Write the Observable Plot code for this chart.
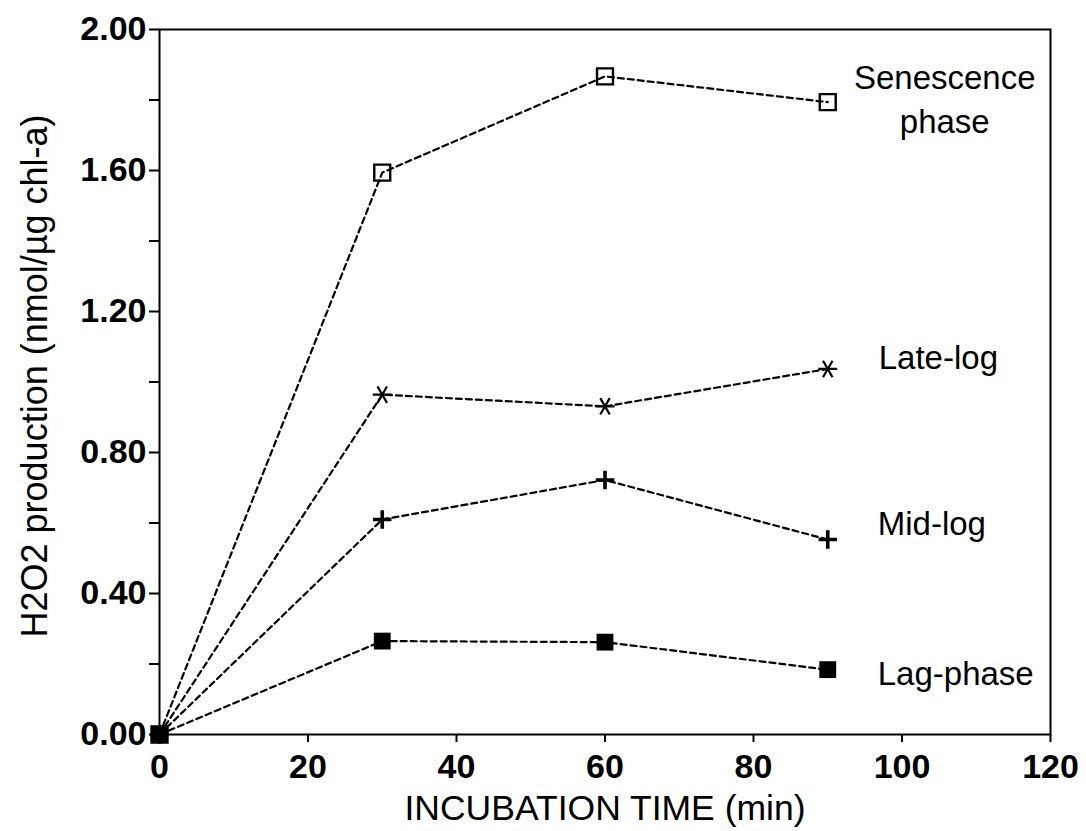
<!DOCTYPE html>
<html>
<head>
<meta charset="utf-8">
<script src="https://cdn.jsdelivr.net/npm/d3@7"></script>
<script src="https://cdn.jsdelivr.net/npm/@observablehq/plot@0.6"></script>
<style>
  html, body { margin: 0; padding: 0; background: #fff; }
  #chart svg { display: block; }
</style>
</head>
<body>
<div id="chart"></div>
<script>
// ---- data ----
const times = [0, 30, 60, 90];
const seriesNames = ["Senescence\nphase", "Late-log", "Mid-log", "Lag-phase"];
const senescence = [0, 1.594, 1.867, 1.794];
const lateLog    = [0, 0.964, 0.931, 1.037];
const midLog     = [0, 0.610, 0.722, 0.553];
const lagPhase   = [0, 0.265, 0.262, 0.184];
const xTicks = [0, 20, 40, 60, 80, 100, 120];
const yTicks = [0, 0.4, 0.8, 1.2, 1.6, 2.0];
const yMinorTicks = [0.2, 0.6, 1.0, 1.4, 1.8];
const xTitle = "INCUBATION TIME (min)";
const yTitle = "H2O2 production (nmol/µg chl-a)";

const valuesBySeries = [senescence, lateLog, midLog, lagPhase];
const rows = [];
seriesNames.forEach((name, s) => {
  times.forEach((t, i) => rows.push({series: name, x: t, y: valuesBySeries[s][i]}));
});
const isLast = (d) => d.x === times[times.length - 1];

const font = "'Liberation Sans', Arial, Helvetica, sans-serif";
const labelSize = 33;

const chart = Plot.plot({
  width: 1086,
  height: 831,
  marginLeft: 159,
  marginRight: 36,
  marginTop: 29,
  marginBottom: 97,
  style: {fontFamily: font, background: "#fff", color: "#000"},
  x: {domain: [0, 120]},
  y: {domain: [0, 2]},
  marks: [
    Plot.frame({stroke: "#000", strokeWidth: 2}),
    Plot.axisY({ticks: yMinorTicks, tickSize: 10, tickFormat: () => "", strokeWidth: 2, label: null}),
    Plot.axisY({ticks: yTicks, tickSize: 10, tickPadding: 3, tickFormat: d3.format(".2f"),
                fontSize: 34, fontWeight: "bold", strokeWidth: 2, label: null}),
    Plot.axisX({ticks: xTicks, tickSize: 8, tickPadding: 11, tickFormat: d3.format("d"),
                fontSize: 34, fontWeight: "bold", strokeWidth: 2, label: null}),
    Plot.text([xTitle], {text: d => d, frameAnchor: "bottom", dy: 74.5, lineAnchor: "middle",
                         textAnchor: "middle", fontSize: 35.5}),
    Plot.text([yTitle], {text: d => d, frameAnchor: "left", dx: -124, dy: -6, rotate: -90,
                         textAnchor: "middle", lineAnchor: "middle", fontSize: 36}),
    Plot.line(rows, {x: "x", y: "y", z: "series", stroke: "#000", strokeWidth: 2.2,
                     strokeDasharray: "6,4"}),
    Plot.dot(rows, {filter: d => d.series === seriesNames[0], x: "x", y: "y", symbol: "square",
                    r: 9, fill: "none", stroke: "#000", strokeWidth: 2.4}),
    Plot.dot(rows, {filter: d => d.series === seriesNames[1], x: "x", y: "y", symbol: "asterisk",
                    r: 9, rotate: 90, stroke: "#000", strokeWidth: 2.2}),
    Plot.dot(rows, {filter: d => d.series === seriesNames[2], x: "x", y: "y", symbol: "plus",
                    r: 6, stroke: "#000", strokeWidth: 3.6}),
    Plot.dot(rows, {filter: d => d.series === seriesNames[3], x: "x", y: "y", symbol: "square",
                    r: 9.5, fill: "#000", stroke: "none"}),
    Plot.text(rows, {filter: d => d.series === seriesNames[0] && isLast(d), x: "x", y: "y",
                     text: "series", dx: 117, dy: -5, textAnchor: "middle", lineAnchor: "middle",
                     lineHeight: 1.32, fontSize: labelSize}),
    Plot.text(rows, {filter: d => d.series === seriesNames[1] && isLast(d), x: "x", y: "y",
                     text: "series", dx: 51, dy: -10.5, textAnchor: "start", lineAnchor: "middle",
                     fontSize: labelSize}),
    Plot.text(rows, {filter: d => d.series === seriesNames[2] && isLast(d), x: "x", y: "y",
                     text: "series", dx: 50, dy: -15.5, textAnchor: "start", lineAnchor: "middle",
                     fontSize: labelSize}),
    Plot.text(rows, {filter: d => d.series === seriesNames[3] && isLast(d), x: "x", y: "y",
                     text: "series", dx: 50, dy: 4.5, textAnchor: "start", lineAnchor: "middle",
                     fontSize: labelSize})
  ]
});
document.getElementById("chart").appendChild(chart);
</script>
</body>
</html>
